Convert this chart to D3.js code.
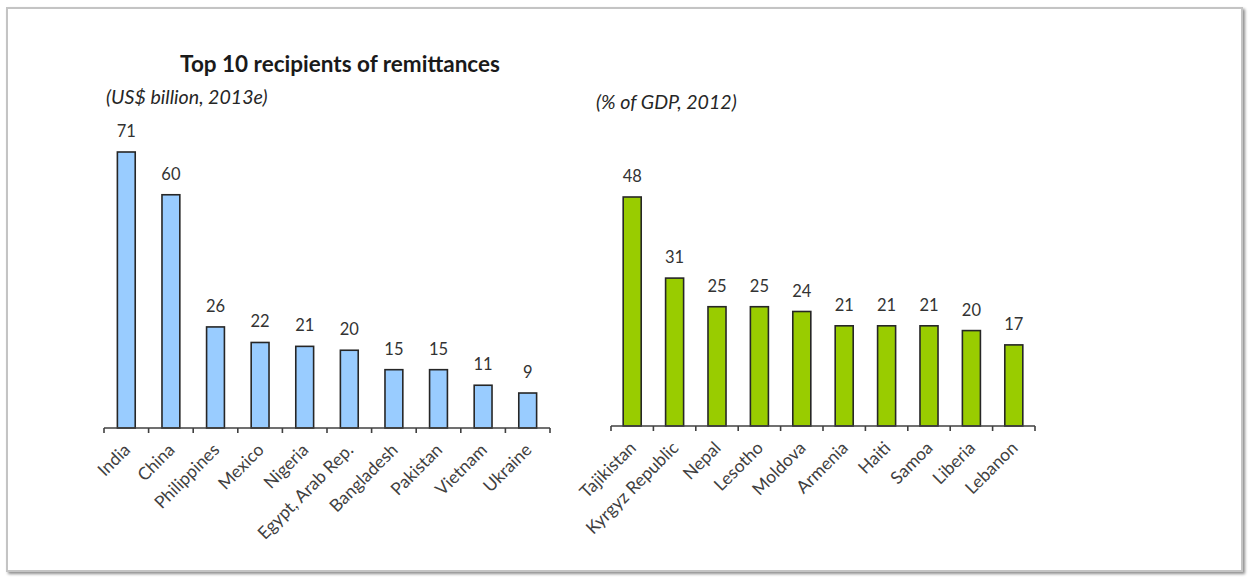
<!DOCTYPE html>
<html>
<head>
<meta charset="utf-8">
<script src="https://cdn.jsdelivr.net/npm/d3@7"></script>
<style>
  html, body { margin: 0; padding: 0; background: #ffffff; }
  svg { display: block; }
  text { font-family: Lato, "Open Sans", sans-serif; }
</style>
</head>
<body>
<svg id="chart" width="1251" height="579"></svg>
<script>
// Remittances received, top 10 countries (US$ billion, 2013e)
const volumeCountries = ["India", "China", "Philippines", "Mexico", "Nigeria",
  "Egypt, Arab Rep.", "Bangladesh", "Pakistan", "Vietnam", "Ukraine"];
const volumeValues = [71, 60, 26, 22, 21, 20, 15, 15, 11, 9];

// Remittances as a share of GDP, top 10 countries (% of GDP, 2012)
const shareCountries = ["Tajikistan", "Kyrgyz Republic", "Nepal", "Lesotho", "Moldova",
  "Armenia", "Haiti", "Samoa", "Liberia", "Lebanon"];
const shareValues = [48, 31, 25, 25, 24, 21, 21, 21, 20, 17];

const title = "Top 10 recipients of remittances";
const volumeUnit = "(US$ billion, 2013e)";
const shareUnit = "(% of GDP, 2012)";

const svg = d3.select("#chart");

// Framed panel with a soft shadow
const defs = svg.append("defs");
const shadow = defs.append("filter").attr("id", "frameShadow")
  .attr("x", "-2%").attr("y", "-2%").attr("width", "104%").attr("height", "106%");
shadow.append("feGaussianBlur").attr("in", "SourceAlpha").attr("stdDeviation", 1.8).attr("result", "b");
shadow.append("feOffset").attr("in", "b").attr("dx", 1.5).attr("dy", 1.5).attr("result", "o");
shadow.append("feComponentTransfer").attr("in", "o").attr("result", "s")
  .append("feFuncA").attr("type", "linear").attr("slope", 0.45);
const merge = shadow.append("feMerge");
merge.append("feMergeNode").attr("in", "s");
merge.append("feMergeNode").attr("in", "SourceGraphic");

svg.append("rect")
  .attr("x", 7).attr("y", 8).attr("width", 1235).attr("height", 563)
  .attr("fill", "#ffffff").attr("stroke", "#c4c4c4").attr("stroke-width", 2)
  .attr("filter", "url(#frameShadow)");

// Title and unit captions
svg.append("text")
  .attr("x", 340).attr("y", 72)
  .attr("text-anchor", "middle")
  .attr("font-size", 22.5).attr("font-weight", 700).attr("fill", "#1a1a1a")
  .text(title);

svg.append("text")
  .attr("x", 106).attr("y", 104)
  .attr("font-size", 19.6).attr("font-style", "italic").attr("fill", "#262626")
  .text(volumeUnit);

svg.append("text")
  .attr("x", 596).attr("y", 109)
  .attr("font-size", 19.6).attr("font-style", "italic").attr("fill", "#262626")
  .text(shareUnit);

function drawPanel(cfg) {
  const g = svg.append("g");

  const x = d3.scaleBand()
    .domain(cfg.categories)
    .range([cfg.x0, cfg.x1])
    .paddingInner(cfg.pad)
    .paddingOuter(cfg.pad / 2);

  const y = d3.scaleLinear()
    .domain([0, cfg.refValue])
    .range([cfg.baseline, cfg.refTop]);

  const data = cfg.categories.map((c, i) => ({ c, v: cfg.values[i] }));

  // Bars
  g.selectAll("rect.bar").data(data).join("rect")
    .attr("class", "bar")
    .attr("x", d => x(d.c))
    .attr("width", x.bandwidth())
    .attr("y", d => y(d.v))
    .attr("height", d => y(0) - y(d.v))
    .attr("fill", cfg.fill)
    .attr("stroke", "#262626")
    .attr("stroke-width", 1.6);

  // Value labels
  g.selectAll("text.val").data(data).join("text")
    .attr("class", "val")
    .attr("x", d => x(d.c) + x.bandwidth() / 2)
    .attr("y", d => y(d.v) - 15)
    .attr("text-anchor", "middle")
    .attr("font-size", 16.5)
    .attr("fill", "#333333")
    .text(d => d.v);

  // Category axis: baseline with tick marks between categories
  const step = x.step();
  const edges = d3.range(cfg.categories.length + 1).map(i => cfg.x0 + i * step);
  g.append("line")
    .attr("x1", cfg.x0).attr("x2", cfg.x1)
    .attr("y1", cfg.baseline).attr("y2", cfg.baseline)
    .attr("stroke", "#404040").attr("stroke-width", 1.6);
  g.selectAll("line.tick").data(edges).join("line")
    .attr("class", "tick")
    .attr("x1", d => d).attr("x2", d => d)
    .attr("y1", cfg.baseline).attr("y2", cfg.baseline + 5)
    .attr("stroke", "#404040").attr("stroke-width", 1.6);

  // Rotated category labels
  g.selectAll("text.cat").data(data).join("text")
    .attr("class", "cat")
    .attr("text-anchor", "end")
    .attr("font-size", 17.5)
    .attr("fill", "#404040")
    .attr("transform", d => {
      const cx = x(d.c) + x.bandwidth() / 2 + 5;
      const cy = cfg.baseline + 23;
      return `translate(${cx},${cy}) rotate(-45)`;
    })
    .text(d => d.c);
}

drawPanel({
  categories: volumeCountries, values: volumeValues,
  x0: 104, x1: 550, pad: 0.6,
  baseline: 428, refValue: 71, refTop: 152,
  fill: "#99ccff"
});

drawPanel({
  categories: shareCountries, values: shareValues,
  x0: 611, x1: 1035, pad: 0.575,
  baseline: 426, refValue: 48, refTop: 197,
  fill: "#99cc00"
});
</script>
</body>
</html>
